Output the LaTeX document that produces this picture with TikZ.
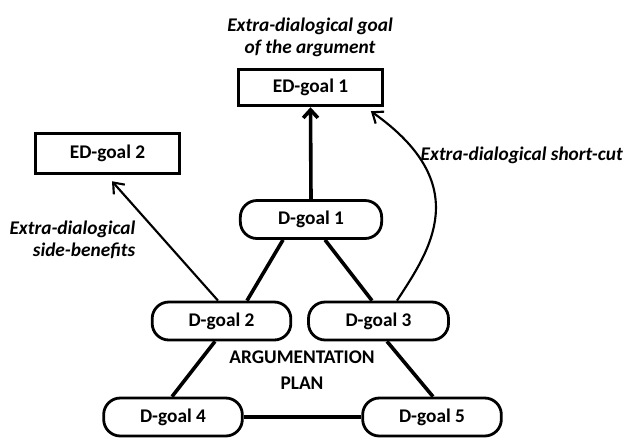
\documentclass[tikz,border=0pt]{standalone}
\usepackage{fontspec}
\setmainfont{Carlito}
\usetikzlibrary{arrows.meta,calc}
\begin{document}
\begin{tikzpicture}[x=0.75pt,y=-0.75pt,
  every node/.style={font=\fontsize{14.5}{17}\selectfont\bfseries},
  edbox/.style={draw,line width=2.1pt,minimum width=108pt,minimum height=28pt,inner sep=0pt},
  dbox/.style={draw,line width=2.1pt,rounded corners=12.5pt,minimum width=104pt,minimum height=28.5pt,inner sep=0pt},
  thickline/.style={line width=2.7pt},
  thinarrow/.style={line width=1.6pt,-{Straight Barb[length=7pt,width=11pt,line width=1.6pt]}},
  lbl/.style={font=\fontsize{14.5}{16.5}\selectfont\bfseries\itshape}]
\useasboundingbox (0,0) rectangle (624,437);
\node[edbox,minimum height=27.5pt] (ed1) at (310.5,87.5) {ED-goal 1};
\node[edbox,minimum height=30.5pt] (ed2) at (107.5,153.5) {ED-goal 2};
\node[dbox,minimum width=106pt] (d1) at (311,219.5) {D-goal 1};
\node[dbox] (d2) at (221.5,321) {D-goal 2};
\node[dbox,minimum width=105pt] (d3) at (378.5,321) {D-goal 3};
\node[dbox] (d4) at (173,417) {D-goal 4};
\node[dbox] (d5) at (432,417) {D-goal 5};
\node[lbl,align=center] (t1) at (310,37) {Extra-dialogical goal\\of the argument};
\node[lbl,align=right,anchor=east] (t2) at (140,239.5) {Extra-dialogical\\side-benefits};
\node[lbl,anchor=west] (t3) at (416,155) {Extra-dialogical short-cut};
\node[align=center,font=\fontsize{14.5}{19}\selectfont\bfseries] (t4) at (302,370) {ARGUMENTATION\\PLAN};
\draw[thickline,-{Straight Barb[length=6pt,width=11pt,line width=2.7pt]}] (d1.north) -- (ed1.south);
\draw[thickline] ($(d1.south)+(-28,0)$) -- ($(d2.north)+(25.5,0)$);
\draw[thickline] ($(d1.south)+(14,0)$) -- ($(d3.north)+(-6.5,0)$);
\draw[thickline] ($(d2.south)+(-6.5,0)$) -- ($(d4.north)+(-1,0)$);
\draw[thickline] ($(d3.south)+(8.5,0)$) -- ($(d5.north)+(1,0)$);
\draw[thickline] (d4.east) -- (d5.west);
\draw[thinarrow] ($(d2.north)+(-3.5,0)$) -- ($(ed2.south)+(4.5,6)$);
\draw[thinarrow] ($(d3.north)+(18.5,0)$) .. controls (430,250) and (475,185) .. ($(ed1.south east)+(-13,4)$);
\end{tikzpicture}
\end{document}
